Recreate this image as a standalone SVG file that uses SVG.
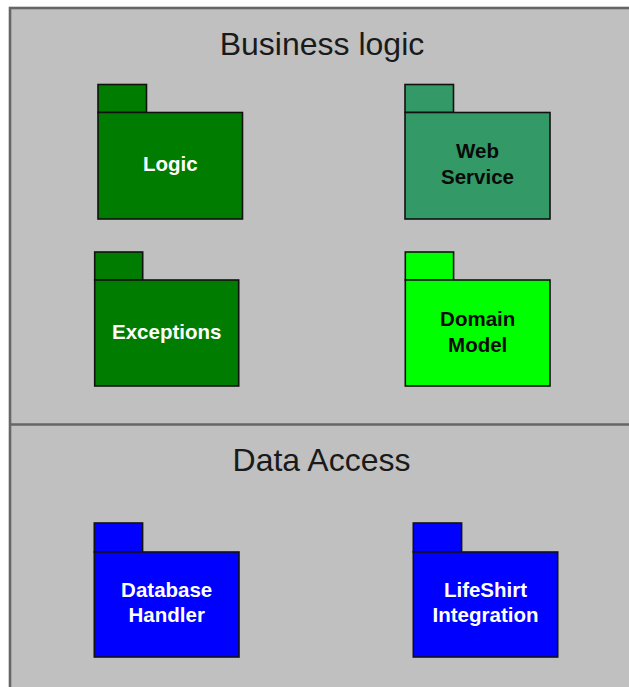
<svg xmlns="http://www.w3.org/2000/svg" width="629" height="687" viewBox="0 0 629 687">
  <style>
    .frame { fill: #c0c0c0; stroke: #666666; stroke-width: 2.6; }
    .divider { stroke: #666666; stroke-width: 2.6; }
    .layer { font-family: "Liberation Sans", Arial, sans-serif; font-size: 32px; fill: #1a1a1a; text-anchor: middle; }
    .pkg rect { stroke: #111111; stroke-width: 1.6; }
    .pkg text { font-family: "Liberation Sans", Arial, sans-serif; font-size: 20.5px; font-weight: bold; text-anchor: middle; }
    .dark rect { fill: #007c00; }
    .dark text, .blue text { fill: #ffffff; }
    .sea rect { fill: #339966; }
    .lime rect { fill: #00ff00; }
    .sea text, .lime text { fill: #0a0a0a; }
    .blue rect { fill: #0000ff; }
  </style>

  <!-- layer frame and divider -->
  <g id="layers">
    <rect class="frame" x="10" y="8" width="640" height="700"/>
    <line class="divider" x1="10" y1="424.5" x2="640" y2="424.5"/>
    <text class="layer" x="322" y="55">Business logic</text>
    <text class="layer" x="321.5" y="471">Data Access</text>
  </g>

  <!-- packages: tab + body -->
  <g id="pkg-logic" class="pkg dark">
    <rect x="98" y="84.5" width="48.5" height="28"/>
    <rect x="98" y="112.5" width="144.5" height="106.5"/>
    <text x="170.3" y="171">Logic</text>
  </g>

  <g id="pkg-web-service" class="pkg sea">
    <rect x="405" y="84.5" width="48.5" height="28"/>
    <rect x="405" y="112.5" width="145" height="106.5"/>
    <text x="477.5" y="157.5">Web</text>
    <text x="477.5" y="184">Service</text>
  </g>

  <g id="pkg-exceptions" class="pkg dark">
    <rect x="94.7" y="252" width="48" height="28"/>
    <rect x="94.7" y="280" width="144" height="106"/>
    <text x="166.7" y="339">Exceptions</text>
  </g>

  <g id="pkg-domain-model" class="pkg lime">
    <rect x="405.3" y="252" width="48.3" height="28"/>
    <rect x="405.3" y="280" width="144.7" height="106"/>
    <text x="477.7" y="326">Domain</text>
    <text x="477.7" y="351.7">Model</text>
  </g>

  <g id="pkg-database-handler" class="pkg blue">
    <rect x="94.3" y="523" width="48.3" height="29"/>
    <rect x="94.3" y="552" width="144.7" height="105"/>
    <text x="166.7" y="597.3">Database</text>
    <text x="166.7" y="622.3">Handler</text>
  </g>

  <g id="pkg-lifeshirt-integration" class="pkg blue">
    <rect x="413.3" y="523" width="48.3" height="29"/>
    <rect x="413.3" y="552" width="144.4" height="105"/>
    <text x="485.5" y="597.3">LifeShirt</text>
    <text x="485.5" y="622.3">Integration</text>
  </g>

  <!-- no connectors in this diagram -->
  <g id="connectors"/>
</svg>
